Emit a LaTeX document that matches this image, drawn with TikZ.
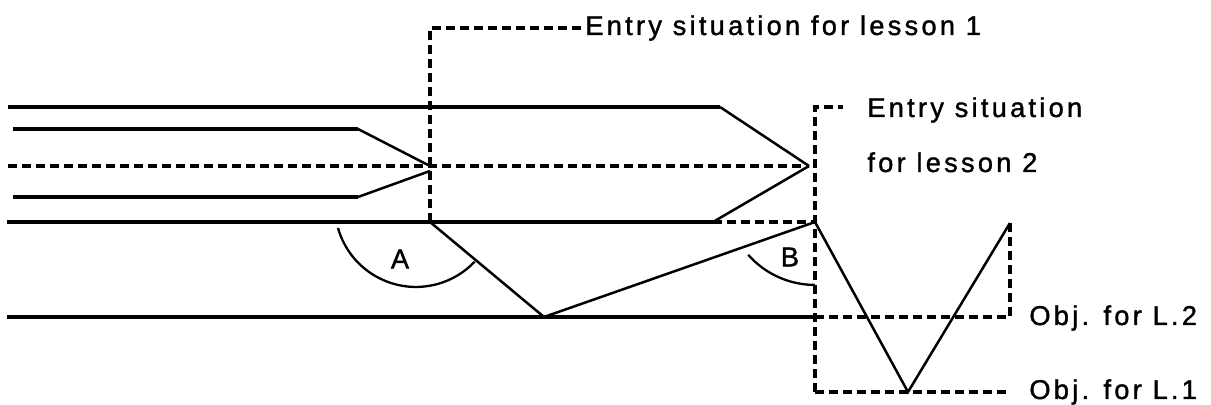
\documentclass[tikz,border=0pt]{standalone}
\usepackage{fontspec}
\newfontfamily\labelfont[LetterSpace=12,FakeBold=1.3]{Liberation Sans}
\begin{document}
\begin{tikzpicture}[x=0.5pt,y=-0.5pt,
  thickline/.style={line width=1.6pt},
  thinline/.style={line width=1.25pt},
  dashline/.style={line width=1.6pt, dash pattern=on 4.5pt off 2.5pt},
  arcline/.style={line width=1.15pt},
  lbl/.style={inner sep=0pt, font=\labelfont\fontsize{13.6}{16}\selectfont}]
\useasboundingbox (0,0) rectangle (1211,405);

% end points and bends of the paths
\coordinate (L1s) at (8,107);
\coordinate (L1k) at (720,107);
\coordinate (L2s) at (13,129);
\coordinate (L2k) at (358,129);
\coordinate (L3s) at (13,197);
\coordinate (L3k) at (358,197);
\coordinate (Ms)  at (8,166);
\coordinate (P1)  at (430,166);
\coordinate (P1b) at (430,171);
\coordinate (P2)  at (809,166);
\coordinate (L4s) at (7,222);
\coordinate (A0)  at (430,222);
\coordinate (L4k) at (713,222);
\coordinate (B0)  at (815,222);
\coordinate (L5s) at (7,317);
\coordinate (V1)  at (544,317);
\coordinate (B5)  at (815,317);
\coordinate (R5)  at (1010,317);
\coordinate (R4)  at (1010,223);
\coordinate (V2)  at (908,392);
\coordinate (Bb)  at (815,392);
\coordinate (Rb)  at (1010,392);
\coordinate (T2)  at (815,107);
\coordinate (T2e) at (843,107);

% labels
\node[lbl, anchor=base west] (e1) at (585,35) {Entry situation for lesson 1};
\node[lbl, anchor=base west] (e2) at (867,117) {Entry situation};
\node[lbl, anchor=base west] (e2b) at (867,172) {for lesson 2};
\node[lbl, anchor=base west] (o2) at (1029,325) {Obj. for L.2};
\node[lbl, anchor=base west] (o1) at (1029,399) {Obj. for L.1};
\node[lbl] (la) at (400,259) {A};
\node[lbl] (lb) at (790,257) {B};

% solid strands
\draw[thickline] (L1s) -- (L1k);
\draw[thinline]  (L1k) -- (P2);
\draw[thickline] (L2s) -- (L2k);
\draw[thinline]  (L2k) -- (P1);
\draw[thickline] (L3s) -- (L3k);
\draw[thinline]  (L3k) -- (P1b);
\draw[thickline] (L4s) -- (L4k);
\draw[thinline]  (L4k) -- (P2);
\draw[thickline] (L5s) -- (B5);
\draw[thinline]  (A0) -- (V1) -- (B0) -- (V2) -- (R4);

% dashed guides
\draw[dashline] (Ms) -- (P2);
\draw[dashline] (A0) |- (e1.west);
\draw[dashline] (L4k) -- (B0);
\draw[dashline] (Bb) -- (T2) -- (T2e);
\draw[dashline] (B5) -- (R5) -- (R4);
\draw[dashline] (Bb) -- (Rb);

% angle arcs
\draw[arcline] (338,228) arc[start angle=164.2, end angle=43.5, radius=81];
\draw[arcline] (748.2,254.8) arc[start angle=138.6, end angle=90, radius=89];
\end{tikzpicture}
\end{document}
